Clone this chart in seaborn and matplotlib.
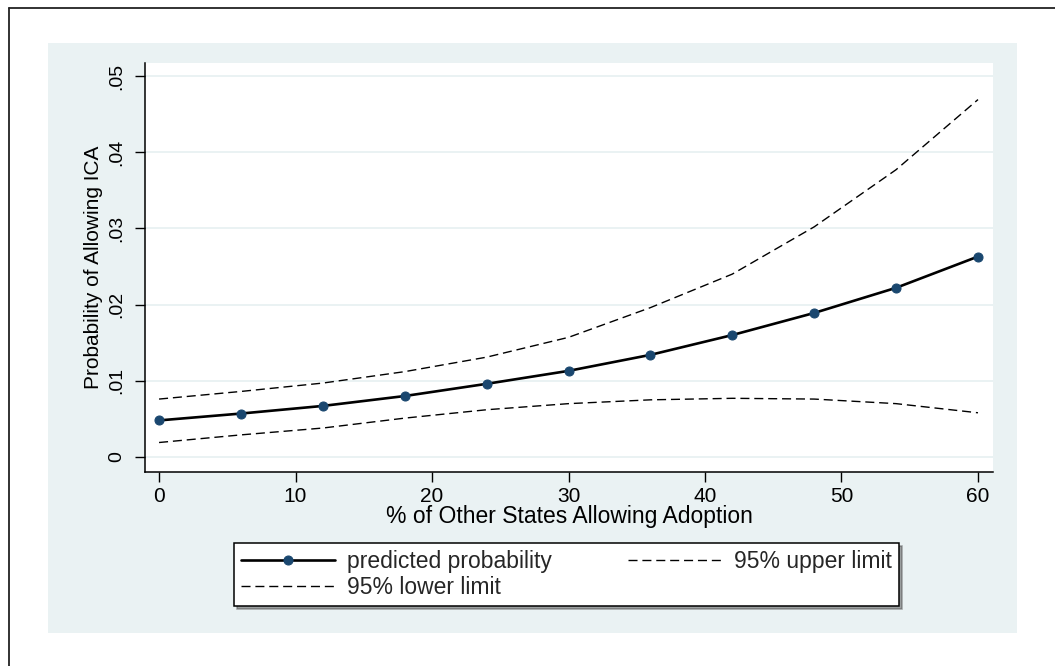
import matplotlib
matplotlib.use("Agg")
import matplotlib.pyplot as plt
import seaborn as sns
from matplotlib.lines import Line2D
from matplotlib.patches import Rectangle

# values
pct_other_states = [0, 6, 12, 18, 24, 30, 36, 42, 48, 54, 60]
predicted = [0.0048, 0.0057, 0.0067, 0.0080, 0.0096, 0.0113, 0.0134, 0.0160, 0.0189, 0.0222, 0.0263]
upper_95 = [0.0076, 0.0086, 0.0097, 0.0112, 0.0131, 0.0157, 0.0196, 0.0240, 0.0302, 0.0377, 0.0469]
lower_95 = [0.0019, 0.0029, 0.0038, 0.0051, 0.0062, 0.0070, 0.0075, 0.0077, 0.0076, 0.0070, 0.0058]

y_ticks = [0, 0.01, 0.02, 0.03, 0.04, 0.05]
y_tick_labels = ["0", ".01", ".02", ".03", ".04", ".05"]
x_ticks = [0, 10, 20, 30, 40, 50, 60]

NAVY = "#1a476f"
PANEL = "#eaf2f3"
W, H = 1055, 666

sns.set_theme(style="white")
plt.rcParams["font.family"] = ["Liberation Sans", "DejaVu Sans"]

fig = plt.figure(figsize=(W / 100, H / 100), dpi=100)
fig.patch.set_facecolor("white")

# outer frame (only top/left edges visible) and the light graph region
fig.add_artist(Line2D([9 / W, 9 / W], [0, 1 - 8 / H], color="#222222", lw=1.3))
fig.add_artist(Line2D([9 / W, 1], [1 - 8 / H, 1 - 8 / H], color="#222222", lw=1.3))
fig.add_artist(Rectangle((48 / W, 1 - 633 / H), 969 / W, 590 / H,
                         facecolor=PANEL, edgecolor="none", zorder=0))

ax = fig.add_axes([145 / W, 1 - 472 / H, 848 / W, 409 / H])
ax.set_facecolor("white")

dash = (0, (6.5, 3.5))
sns.lineplot(x=pct_other_states, y=predicted, ax=ax, color="black", lw=1.9,
             marker="o", markersize=6.5, markerfacecolor=NAVY, markeredgecolor=NAVY,
             label="predicted probability", zorder=4)
sns.lineplot(x=pct_other_states, y=upper_95, ax=ax, color="black", lw=1.0,
             linestyle=dash, label="95% upper limit", zorder=3)
sns.lineplot(x=pct_other_states, y=lower_95, ax=ax, color="black", lw=1.0,
             linestyle=dash, label="95% lower limit", zorder=3)

ax.set_xlim(-1.03, 61.1)
ax.set_ylim(-0.00197, 0.0517)
ax.set_xticks(x_ticks)
ax.set_yticks(y_ticks)
ax.set_yticklabels(y_tick_labels, rotation=90, va="center")
ax.yaxis.grid(True, color=PANEL, lw=1.4)
ax.set_axisbelow(True)

for side in ["top", "right"]:
    ax.spines[side].set_visible(False)
for side in ["left", "bottom"]:
    ax.spines[side].set_color("black")
    ax.spines[side].set_linewidth(1.1)

ax.tick_params(axis="both", direction="out", length=7, width=1, color="black",
               labelsize=14, labelcolor="black", left=True, bottom=True)
ax.tick_params(axis="x", labelsize=15, pad=4)
ax.tick_params(axis="y", pad=7)

ax.set_xlabel("% of Other States Allowing Adoption", fontsize=16.5, color="black", labelpad=-1)
ax.set_ylabel("Probability of Allowing ICA", fontsize=15, color="black", labelpad=4)

handles, labels = ax.get_legend_handles_labels()
ax.get_legend().remove()
order = [0, 2, 1]
leg = fig.legend([handles[i] for i in order], [labels[i] for i in order],
                 loc="upper left", bbox_to_anchor=(234 / W, 1 - 543 / H),
                 ncol=2, fontsize=16.5, frameon=True, fancybox=False, shadow=True,
                 handlelength=4.1, handletextpad=0.55, columnspacing=3.3,
                 borderpad=0.3, labelspacing=0.15, borderaxespad=0)
leg.get_frame().set_edgecolor("black")
leg.get_frame().set_linewidth(1.1)
leg.get_frame().set_facecolor("white")
leg.get_frame().set_alpha(1)

fig.savefig("out.png", dpi=100)
